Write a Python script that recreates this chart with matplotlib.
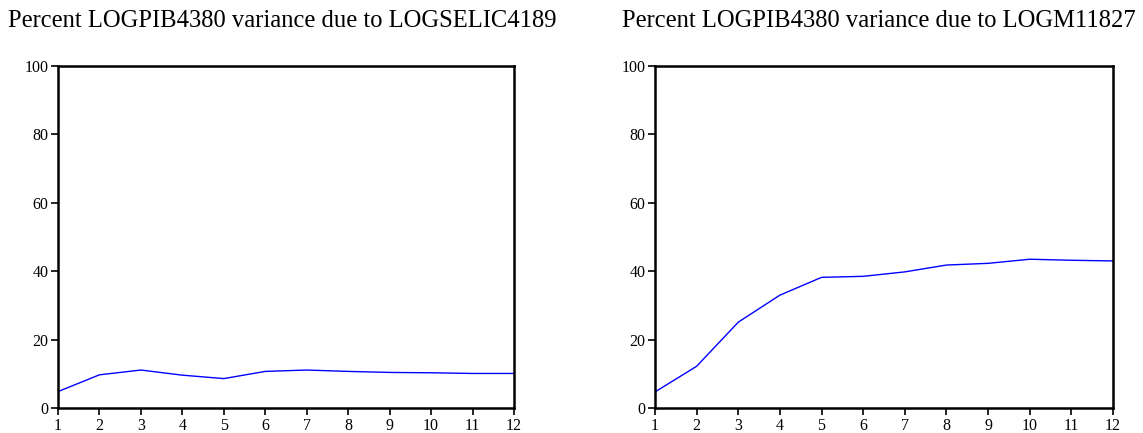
import matplotlib
matplotlib.use("Agg")
import matplotlib.pyplot as plt

plt.rcParams['font.family'] = ['Liberation Serif', 'DejaVu Serif']

# Variance decomposition of LOGPIB4380, periods 1-12
periods = list(range(1, 13))
selic_share = [4.8, 9.7, 11.1, 9.6, 8.6, 10.7, 11.1, 10.7, 10.4, 10.3, 10.1, 10.1]
m1_share = [4.7, 12.2, 25.1, 33.0, 38.2, 38.5, 39.8, 41.8, 42.3, 43.5, 43.2, 43.0]

titles = ["Percent LOGPIB4380 variance due to LOGSELIC4189",
          "Percent LOGPIB4380 variance due to LOGM11827"]

W, H = 1143, 433
fig = plt.figure(figsize=(W / 100, H / 100), dpi=100)

panels = [
    (58, 514, 8, selic_share, titles[0]),
    (655, 1113, 622, m1_share, titles[1]),
]

for left, right, title_x, values, title in panels:
    ax = fig.add_axes([left / W, 1 - 408 / H, (right - left) / W, (408 - 66) / H])
    ax.plot(periods, values, color='#0000ff', linewidth=1.0)
    ax.set_xlim(1, 12)
    ax.set_ylim(0, 100)
    ax.set_xticks(periods)
    ax.set_yticks(range(0, 101, 20))
    for s in ax.spines.values():
        s.set_linewidth(1.8)
    ax.tick_params(direction='out', length=5, width=1.2, labelsize=11.5, pad=2)
    fig.text(title_x / W, 1 - 21 / H, title, fontsize=17.7, ha='left', va='center')

fig.savefig("out.png", dpi=100)
